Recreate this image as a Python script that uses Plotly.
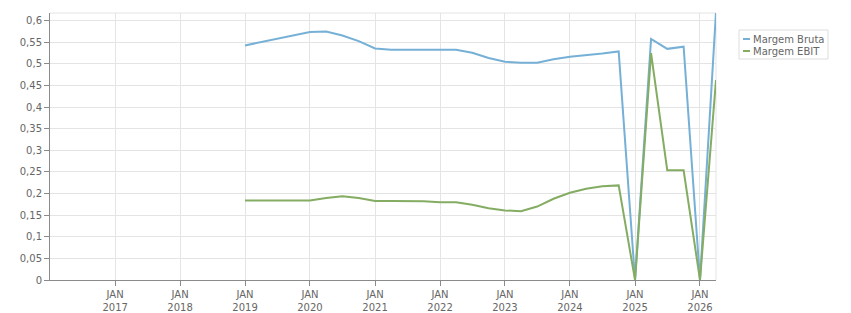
import plotly.graph_objects as go

# ---- data ----
dates = [
    "2019-01-01", "2019-04-01", "2019-07-01", "2019-10-01",
    "2020-01-01", "2020-04-01", "2020-07-01", "2020-10-01",
    "2021-01-01", "2021-04-01", "2021-07-01", "2021-10-01",
    "2022-01-01", "2022-04-01", "2022-07-01", "2022-10-01",
    "2023-01-01", "2023-04-01", "2023-07-01", "2023-10-01",
    "2024-01-01", "2024-04-01", "2024-07-01", "2024-10-01",
    "2025-01-01", "2025-04-01", "2025-07-01", "2025-10-01",
    "2026-01-01", "2026-04-01",
]
margem_bruta = [
    0.543, 0.551, 0.559, 0.567,
    0.574, 0.575, 0.566, 0.553,
    0.536, 0.533, 0.533, 0.533,
    0.533, 0.533, 0.526, 0.514,
    0.505, 0.503, 0.503, 0.511,
    0.517, 0.520, 0.524, 0.529,
    0.0, 0.558, 0.535, 0.540,
    0.0, 0.62,
]
margem_ebit = [
    0.184, 0.184, 0.184, 0.184,
    0.184, 0.190, 0.194, 0.190,
    0.183, 0.183, 0.183, 0.182,
    0.180, 0.180, 0.174, 0.166,
    0.161, 0.159, 0.170, 0.188,
    0.202, 0.211, 0.217, 0.219,
    0.0, 0.525, 0.254, 0.254,
    0.0, 0.463,
]
series_names = ["Margem Bruta", "Margem EBIT"]
series_colors = ["#76b0d6", "#84ac62"]

year_ticks = ["2017", "2018", "2019", "2020", "2021", "2022", "2023", "2024", "2025", "2026"]
y_tickvals = [0, 0.05, 0.1, 0.15, 0.2, 0.25, 0.3, 0.35, 0.4, 0.45, 0.5, 0.55, 0.6]
y_ticktext = ["0", "0,05", "0,1", "0,15", "0,2", "0,25", "0,3", "0,35", "0,4", "0,45", "0,5", "0,55", "0,6"]

# ---- layout constants ----
W, H = 851, 313
ML, MR, MT, MB = 50, 135, 13, 33
PW, PH = W - ML - MR, H - MT - MB
FONT = "DejaVu Sans"
TXT = "#666666"
GRID = "#e4e4e4"
AXIS = "#8a8a8a"


def px2paper(x, y):
    return (x - ML) / PW, (H - MB - y) / PH


fig = go.Figure()
for name, vals, col in zip(series_names, [margem_bruta, margem_ebit], series_colors):
    fig.add_trace(go.Scatter(
        x=dates, y=vals, name=name, mode="lines",
        line=dict(color=col, width=2),
        showlegend=False,
    ))

fig.update_layout(
    width=W, height=H,
    margin=dict(l=ML, r=MR, t=MT, b=MB, pad=0, autoexpand=False),
    paper_bgcolor="white", plot_bgcolor="white",
    font=dict(family=FONT, size=10, color=TXT),
)
fig.update_xaxes(
    type="date", range=["2016-01-01", "2026-04-01"],
    tickvals=[f"{y}-01-01" for y in year_ticks],
    ticktext=[f"JAN<br>{y}" for y in year_ticks],
    showgrid=True, gridcolor=GRID, gridwidth=1,
    showline=True, linecolor=AXIS, linewidth=1,
    ticks="outside", ticklen=5, tickcolor=AXIS,
    tickfont=dict(family=FONT, size=10, color=TXT),
    zeroline=False, fixedrange=True, automargin=False,
)
fig.update_yaxes(
    range=[0, 0.618],
    tickvals=y_tickvals, ticktext=y_ticktext,
    showgrid=True, gridcolor=GRID, gridwidth=1,
    showline=True, linecolor=AXIS, linewidth=1,
    ticks="outside", ticklen=5, tickcolor=AXIS,
    tickfont=dict(family=FONT, size=10, color=TXT),
    zeroline=False, fixedrange=True, automargin=False,
)

# light border on top and right of plot area
fig.add_shape(type="line", xref="paper", yref="paper", x0=0, x1=1, y0=1, y1=1,
              line=dict(color=GRID, width=1), layer="below")
fig.add_shape(type="line", xref="paper", yref="paper", x0=1, x1=1, y0=0, y1=1,
              line=dict(color=GRID, width=1), layer="below")

# legend (drawn manually to match compact style)
lx0, ly0 = px2paper(739, 30)
lx1, ly1 = px2paper(828, 59)
fig.add_shape(type="rect", xref="paper", yref="paper", x0=lx0, x1=lx1, y0=ly1, y1=ly0,
              line=dict(color="#dddddd", width=1), fillcolor="white")
for i, (name, col) in enumerate(zip(series_names, series_colors)):
    yy = 39 + i * 12
    sx0, sy = px2paper(743, yy)
    sx1, _ = px2paper(750, yy)
    fig.add_shape(type="line", xref="paper", yref="paper", x0=sx0, x1=sx1, y0=sy, y1=sy,
                  line=dict(color=col, width=2))
    tx, _ = px2paper(751, yy)
    fig.add_annotation(xref="paper", yref="paper", x=tx, y=sy, text=name, showarrow=False,
                       xanchor="left", yanchor="middle",
                       font=dict(family=FONT, size=10, color=TXT))

fig.write_html("out.html")
